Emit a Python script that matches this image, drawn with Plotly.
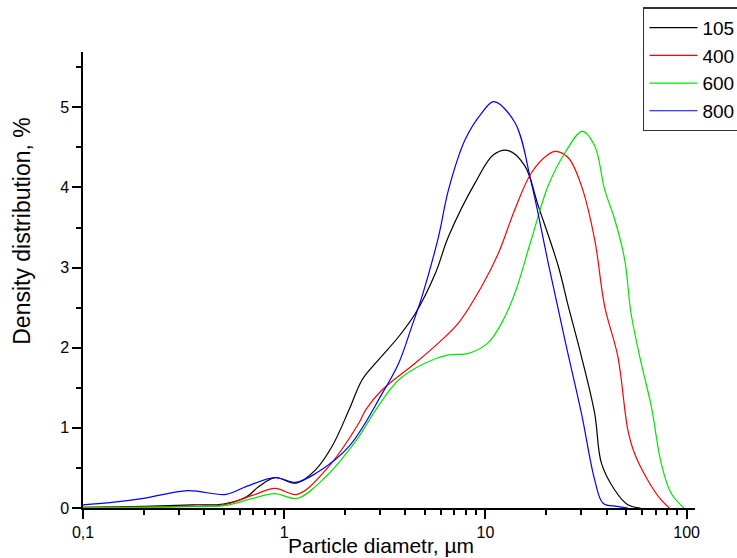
import plotly.graph_objects as go
import numpy as np

# ---- data ----
d_105 = [0.1, 0.2, 0.35, 0.5, 0.65, 0.75, 0.9, 1.15, 1.43, 1.73, 2.1, 2.44, 2.85, 3.71, 4.49,
         5.64, 6.56, 8.9, 11.0, 13.0, 15.7, 18.3, 23, 25.8, 30, 34.9, 37.7, 43.9, 51, 59]
y_105 = [0.005, 0.02, 0.04, 0.05, 0.14, 0.27, 0.38, 0.31, 0.475, 0.77, 1.225, 1.6, 1.81, 2.14, 2.43,
         2.93, 3.39, 4.06, 4.41, 4.46, 4.27, 3.77, 3.02, 2.52, 1.89, 1.18, 0.56, 0.225, 0.04, 0.0]

d_400 = [0.1, 0.3, 0.5, 0.7, 0.9, 1.16, 1.61, 2.35, 2.54, 3.07, 4.49, 5.85, 7.35, 9.6, 11.6,
         14.0, 16.9, 20.5, 22.3, 25.8, 30, 34.9, 39.1, 45.5, 51, 55.1, 64, 74.7, 82]
y_400 = [0.01, 0.02, 0.04, 0.16, 0.245, 0.17, 0.475, 1.06, 1.225, 1.475, 1.81, 2.06, 2.31, 2.77, 3.18,
         3.725, 4.18, 4.41, 4.45, 4.37, 4.02, 3.35, 2.52, 1.89, 0.975, 0.68, 0.35, 0.1, 0.0]

d_600 = [0.1, 0.3, 0.5, 0.7, 0.9, 1.16, 1.61, 2.1, 2.35, 2.85, 3.71, 5.03, 6.56, 8.24, 10.3,
         12.05, 14.0, 16.9, 20.5, 24.8, 30.3, 34.9, 39.1, 43.9, 49.2, 52.9, 59.4, 66.7, 74.7, 83.8, 97]
y_600 = [0.005, 0.015, 0.03, 0.12, 0.18, 0.12, 0.39, 0.725, 0.89, 1.225, 1.6, 1.81, 1.91, 1.93, 2.06,
         2.31, 2.68, 3.35, 4.02, 4.43, 4.7, 4.52, 3.975, 3.6, 3.1, 2.43, 1.81, 1.27, 0.56, 0.18, 0.0]

d_800 = [0.1, 0.136, 0.2, 0.332, 0.514, 0.65, 0.9, 1.14, 1.43, 2.1, 3.07, 3.71, 4.31, 4.84, 5.85,
         6.56, 7.94, 9.6, 11.0, 14.0, 16.9, 20.5, 24.8, 30, 34.9, 38.4, 45, 51]
y_800 = [0.04, 0.066, 0.12, 0.216, 0.17, 0.27, 0.38, 0.32, 0.43, 0.77, 1.43, 1.81, 2.27, 2.64, 3.39,
         3.975, 4.6, 4.93, 5.07, 4.81, 4.06, 3.06, 2.1, 1.18, 0.35, 0.06, 0.02, 0.0]

series_names = ["105", "400", "600", "800"]
series_colors = ["#000000", "#ff0000", "#00e600", "#0000ff"]
series_x = [d_105, d_400, d_600, d_800]
series_y = [y_105, y_400, y_600, y_800]

x_tick_vals = [0.1, 1, 10, 100]
x_tick_text = ["0,1", "1", "10", "100"]
x_minor_vals = [m * 10 ** e for e in (-1, 0, 1) for m in range(2, 10)]

FONT = "Liberation Sans, Arial, sans-serif"

fig = go.Figure()
for name, col, xs, ys in zip(series_names, series_colors, series_x, series_y):
    fig.add_trace(go.Scatter(x=xs, y=ys, name=name, mode="lines",
                             line=dict(color=col, width=1.2, shape="spline", smoothing=1.0)))

fig.update_layout(
    width=737, height=558,
    margin=dict(l=83, r=42, t=52, b=50, autoexpand=False),
    paper_bgcolor="white", plot_bgcolor="white",
    font=dict(family=FONT, size=16, color="#000"),
    showlegend=True,
    legend=dict(x=0.915, y=1.098, xanchor="left", yanchor="top",
                bordercolor="#333", borderwidth=1.5, bgcolor="white",
                font=dict(family=FONT, size=19, color="#000"),
                tracegroupgap=0, itemwidth=48),
    xaxis=dict(type="log", range=[-1, np.log10(110)],
               tickvals=x_tick_vals, ticktext=x_tick_text,
               ticks="outside", ticklen=9, tickwidth=1.5, tickcolor="#000",
               showline=True, linecolor="#000", linewidth=1.5,
               showgrid=False, zeroline=False,
               tickfont=dict(family=FONT, size=16),
               minor=dict(tickvals=x_minor_vals, ticks="outside", ticklen=5,
                          tickwidth=1.5, tickcolor="#000", showgrid=False)),
    yaxis=dict(range=[0, 5.69], tickvals=[0, 1, 2, 3, 4, 5],
               ticks="outside", ticklen=9, tickwidth=1.5, tickcolor="#000",
               showline=True, linecolor="#000", linewidth=1.5,
               showgrid=False, zeroline=False,
               tickfont=dict(family=FONT, size=16),
               minor=dict(dtick=0.5, ticks="outside", ticklen=5,
                          tickwidth=1.5, tickcolor="#000", showgrid=False)),
    annotations=[
        dict(text="Particle diametr, µm", xref="paper", yref="paper",
             x=0.487, y=0, yshift=-37, xanchor="center", yanchor="middle",
             showarrow=False, font=dict(family=FONT, size=21, color="#000")),
        dict(text="Density distribution, %", xref="paper", yref="paper",
             x=0, y=0.608, xshift=-61, xanchor="center", yanchor="middle",
             textangle=-90, showarrow=False,
             font=dict(family=FONT, size=23, color="#000")),
    ],
)

fig.write_html("out.html")
